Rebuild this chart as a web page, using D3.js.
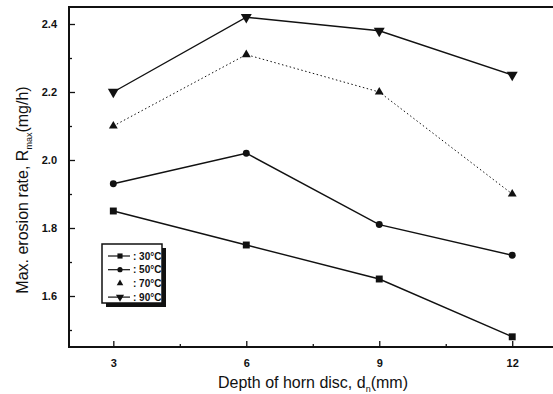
<!DOCTYPE html>
<html>
<head>
<meta charset="utf-8">
<script src="https://cdn.jsdelivr.net/npm/d3@7"></script>
<style>
  body { margin: 0; background: #fff; }
  text { font-family: "Liberation Sans", Arial, sans-serif; fill: #111; }
</style>
</head>
<body>
<div id="chart"></div>
<script>
// data
const depths = [3, 6, 9, 12];
const temps = ["30", "50", "70", "90"];
const rate30 = [1.85, 1.75, 1.65, 1.48];
const rate50 = [1.93, 2.02, 1.81, 1.72];
const rate70 = [2.10, 2.31, 2.20, 1.90];
const rate90 = [2.20, 2.42, 2.38, 2.25];
const xTicks = [3, 6, 9, 12];
const yTicks = [1.6, 1.8, 2.0, 2.2, 2.4];

const series = [
    { temp: temps[0], values: rate30, symbol: d3.symbolSquare, size: 48, dash: null },
    { temp: temps[1], values: rate50, symbol: d3.symbolCircle, size: 38, dash: null },
    { temp: temps[2], values: rate70, symbol: d3.symbolTriangle, size: 34, dash: "1.5,2.5" },
    { temp: temps[3], values: rate90, symbol: "down", size: 52, dash: null }
];

const wSvg = 553;
const hSvg = 394;
const padLeft = 69, padTop = 7, axisY = 347;

const svg = d3.select("#chart")
    .append("svg")
    .attr("width", wSvg)
    .attr("height", hSvg);

// Scales
const xScale = d3.scaleLinear([2, 12.92], [padLeft, wSvg]);
const yScale = d3.scaleLinear([1.45, 2.45], [axisY, padTop]);

// Axis (ticks inside the frame)
const xAxis = svg.append("g")
    .attr("transform", `translate(0, ${axisY})`)
    .call(d3.axisBottom(xScale).tickValues(xTicks).tickSize(-6).tickPadding(12).tickFormat(d3.format("d")));
svg.append("g")
    .attr("transform", `translate(0, ${axisY})`)
    .call(d3.axisBottom(xScale).tickValues([4.5, 7.5, 10.5]).tickSize(-3).tickFormat(""));

const yAxis = svg.append("g")
    .attr("transform", `translate(${padLeft}, 0)`)
    .call(d3.axisLeft(yScale).tickValues(yTicks).tickSize(-6).tickPadding(12).tickFormat(d3.format(".1f")));
svg.append("g")
    .attr("transform", `translate(${padLeft}, 0)`)
    .call(d3.axisLeft(yScale).tickValues([1.5, 1.7, 1.9, 2.1, 2.3]).tickSize(-3).tickFormat(""));

svg.selectAll(".domain").remove();
svg.selectAll(".tick line").attr("stroke", "#111").attr("stroke-width", 1.3);
svg.selectAll(".tick text")
    .attr("font-size", 11)
    .attr("font-weight", "bold")
    .attr("fill", "#222");

// frame: left, top, bottom (right side runs off the picture)
svg.append("path")
    .attr("d", `M${wSvg},${padTop}H${padLeft}V${axisY}H${wSvg}`)
    .attr("fill", "none")
    .attr("stroke", "#111")
    .attr("stroke-width", 2);

// Lines
const line = d3.line()
    .x((d, i) => xScale(depths[i]))
    .y(d => yScale(d));

function symbolPath(sym, size) {
    if (sym === "down") {
        return d3.symbol(d3.symbolTriangle, size)();
    }
    return d3.symbol(sym, size)();
}

for (let s of series) {
    svg.append("path")
        .datum(s.values)
        .attr("d", line)
        .attr("fill", "none")
        .attr("stroke", "#111")
        .attr("stroke-width", s.dash ? 1 : 1.4)
        .attr("stroke-dasharray", s.dash);

    svg.selectAll(null)
        .data(s.values)
        .enter()
        .append("path")
        .attr("d", symbolPath(s.symbol, s.size))
        .attr("transform", (d, i) => `translate(${xScale(depths[i])}, ${yScale(d)})` + (s.symbol === "down" ? " rotate(180)" : ""))
        .attr("fill", "#111");
}

// Legend
const lx = 102, ly = 244, lw = 60, lh = 59;
svg.append("rect")
    .attr("x", lx + 4).attr("y", ly + 4)
    .attr("width", lw).attr("height", lh)
    .attr("fill", "#111");
svg.append("rect")
    .attr("x", lx).attr("y", ly)
    .attr("width", lw).attr("height", lh)
    .attr("fill", "#fff")
    .attr("stroke", "#111")
    .attr("stroke-width", 1.5);

series.forEach((s, i) => {
    const y = ly + 12 + i * 13.7;
    if (s.temp !== "70") {
        svg.append("line")
            .attr("x1", lx + 6).attr("x2", lx + 28)
            .attr("y1", y).attr("y2", y)
            .attr("stroke", "#111")
            .attr("stroke-width", 1.2);
    }
    svg.append("path")
        .attr("d", symbolPath(s.symbol, s.size * 0.55))
        .attr("transform", `translate(${lx + 18}, ${y})` + (s.symbol === "down" ? " rotate(180)" : ""))
        .attr("fill", "#111");
    svg.append("text")
        .attr("x", lx + 31).attr("y", y + 3.5)
        .attr("font-size", 10)
        .attr("font-weight", "bold")
        .text(`: ${s.temp}°C`);
});

// Axis titles
const xTitle = svg.append("text")
    .attr("x", 313).attr("y", 388)
    .attr("text-anchor", "middle")
    .attr("font-size", 16);
xTitle.append("tspan").text("Depth of horn disc, d");
xTitle.append("tspan").attr("font-size", 9).attr("dy", 4).text("n");
xTitle.append("tspan").attr("dy", -4).text("(mm)");

const yTitle = svg.append("text")
    .attr("transform", "translate(28, 190) rotate(-90)")
    .attr("text-anchor", "middle")
    .attr("font-size", 16);
yTitle.append("tspan").text("Max. erosion rate, R");
yTitle.append("tspan").attr("font-size", 9).attr("dy", 4).text("max");
yTitle.append("tspan").attr("dy", -4).text("(mg/h)");
</script>
</body>
</html>
